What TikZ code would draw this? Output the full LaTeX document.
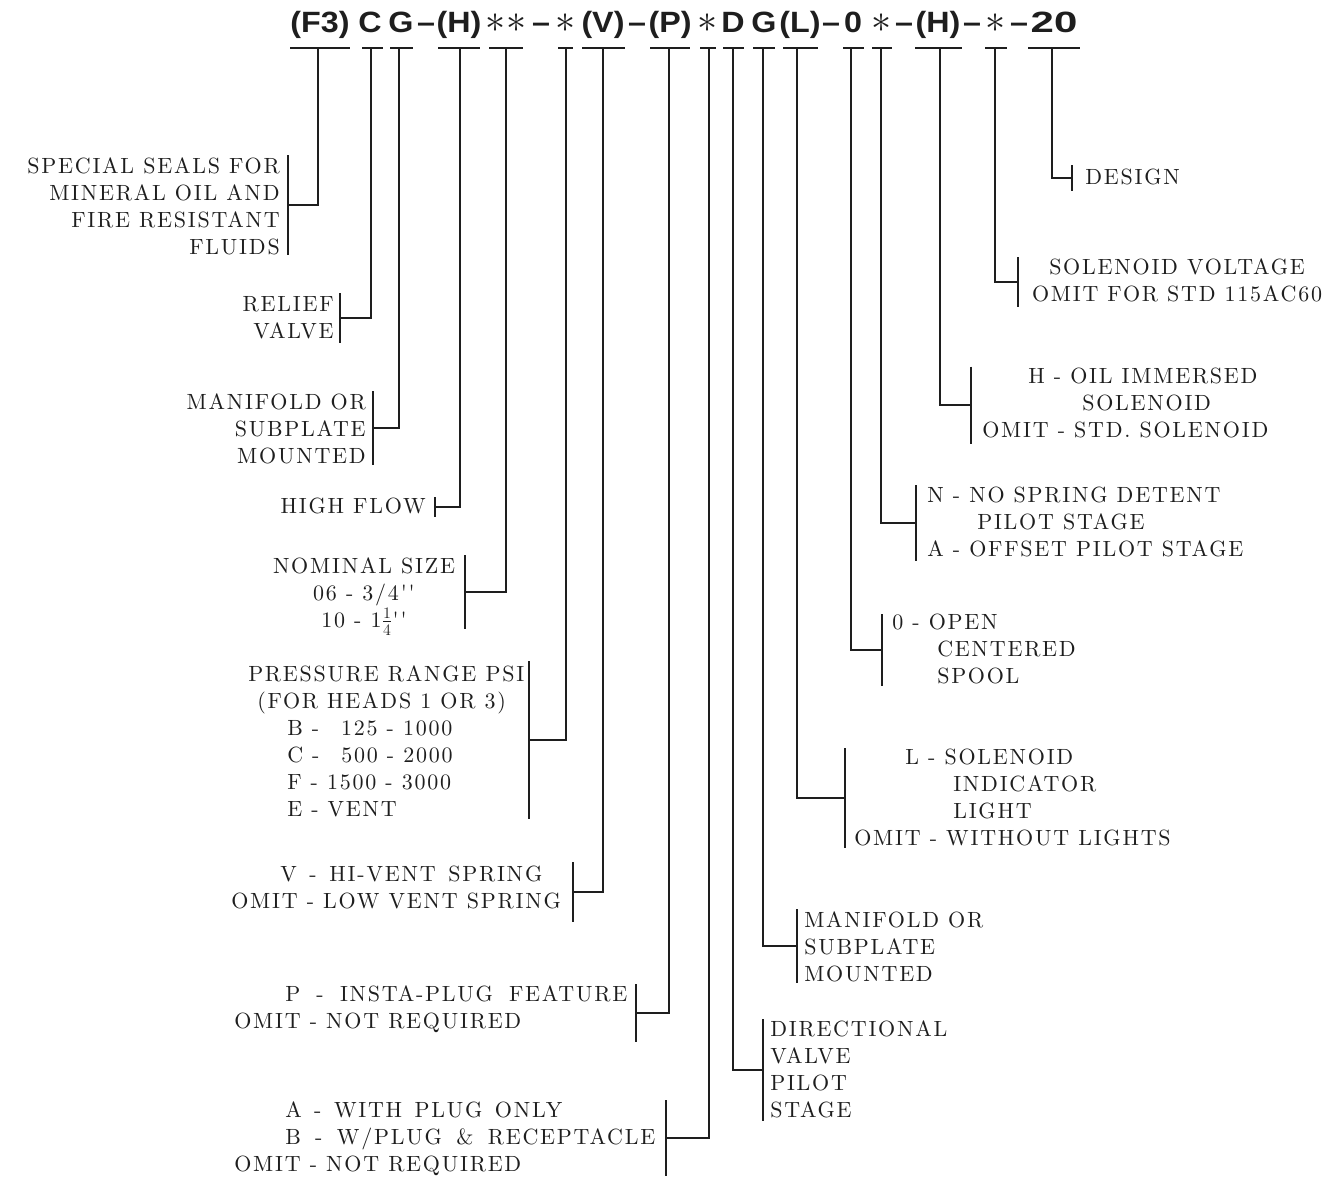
\documentclass[tikz,border=0pt]{standalone}
\usepackage{fontspec}
\usepackage{graphicx}
\usepackage{calc}
\newfontfamily\codefont{Liberation Sans}[FakeStretch=1.1]
\newfontfamily\lblface{lmroman10-regular}[Extension=.otf, LetterSpace=8]
\newlength\pxu \setlength\pxu{0.75pt}
\newcommand\ind[1]{\hspace*{#1\pxu}}
\newcommand\fit[2]{\makebox[#1\pxu][s]{#2}}
\newcommand\nb[1]{\makebox[\widthof{1500}][r]{#1}}
\newcommand\lblfont{\lblface\fontsize{16.5}{20.25}\selectfont}
\newcommand\bigast{\scalebox{1.45}{$\ast$}}
\definecolor{ink}{HTML}{1E1E1E}
\tikzset{
  lbl/.style={font=\lblfont, inner sep=0pt, text=ink},
  code/.style={font=\codefont\bfseries\fontsize{22}{26}\selectfont, inner sep=0pt, text=ink, anchor=base},
  bar/.style={minimum height=#1\pxu, minimum width=0pt, inner sep=0pt, outer sep=0pt},
  conn/.style={draw=ink, line width=1.1pt},
  uline/.style={draw=ink, line width=1.3pt}
}
\begin{document}
\begin{tikzpicture}[x=0.75pt,y=-0.75pt]
\fill[white] (0,0) rectangle (1333,1177);
\useasboundingbox (0,0) rectangle (1333,1177);

% ---- model code row ----
\node[code] (cF3) at (320,33) {(F3)};
\node[code] (cC)  at (370,33) {C};
\node[code] (cG1) at (401,33) {G};
\node[code] (d1)  at (426,33) {\textendash};
\node[code] (cH1) at (459,33) {(H)};
\node[code] (cSS) at (506,33) {\bigast\hspace{1pt}\bigast};
\node[code] (d2)  at (541,33) {\textendash};
\node[code] (cS1) at (566,33) {\bigast};
\node[code] (cV)  at (603,33) {(V)};
\node[code] (d3)  at (637,33) {\textendash};
\node[code] (cP)  at (670,33) {(P)};
\node[code] (cS2) at (708,33) {\bigast};
\node[code] (cD)  at (733,33) {D};
\node[code] (cG2) at (764,33) {G};
\node[code] (cL)  at (800,33) {(L)};
\node[code] (d4)  at (831,33) {\textendash};
\node[code] (cZ)  at (853,33) {0};
\node[code] (cS3) at (882,33) {\bigast};
\node[code] (d5)  at (904,33) {\textendash};
\node[code] (cH2) at (938,33) {(H)};
\node[code] (d6)  at (972,33) {\textendash};
\node[code] (cS4) at (996,33) {\bigast};
\node[code] (d7)  at (1019,33) {\textendash};
\node[code] (cT)  at (1054,33) {\scalebox{1.3}[1]{20}};

% underlines and tick points
\foreach \n/\a/\b/\t in {F3/290/350/318, C/362/383/371, GA/390/413/399, HA/438/480/460,
  SS/489/523/506, SA/558/573/566, V/582/625/603, P/650/690/669, SB/700/716/709,
  D/723/744/733, GB/753/775/763, L/783/818/797, Z/843/864/851, SC/872/892/881,
  HB/915/962/940, SD/985/1007/995, T/1028/1080/1052}{
  \draw[uline] (\a,48) -- (\b,48);
  \coordinate (t\n) at (\t,48);
}

% ---- left labels (anchor = baseline of last line) ----
\node[lbl, align=right, anchor=base east] (lSeal) at (280,254.5) {SPECIAL SEALS FOR\\MINERAL OIL AND\\FIRE RESISTANT\\FLUIDS};
\node[bar=100] (bSeal) at (288,205) {};
\node[lbl, align=right, anchor=base east] (lRel) at (334,338) {RELIEF\\VALVE};
\node[bar=50] (bRel) at (340,318) {};
\node[lbl, align=right, anchor=base east] (lMan1) at (366,463.5) {MANIFOLD OR\\SUBPLATE\\MOUNTED};
\node[bar=74] (bMan1) at (373,428) {};
\node[lbl, anchor=base east] (lHigh) at (426,513.5) {HIGH FLOW};
\node[bar=20] (bHigh) at (435,507) {};
\node[lbl, align=center, anchor=base] (lNom) at (364,627.5) {NOMINAL SIZE\\06 - 3/4''\\10 - 1$\frac14$''};
\node[bar=74] (bNom) at (465,592) {};
\node[lbl, align=left, anchor=base west] (lPress) at (248,816) {PRESSURE RANGE PSI\\\ind{9}(FOR HEADS 1 OR 3)\\
  \ind{39}B - \nb{125} - 1000\\\ind{39}C - \nb{500} - 2000\\\ind{39}F - 1500 - 3000\\\ind{39}E - VENT};
\node[bar=158] (bPress) at (529,740) {};
\node[lbl, align=left, anchor=base west] (lVent) at (231,908.5) {\ind{49}\fit{262}{V - HI-VENT SPRING}\\OMIT - LOW VENT SPRING};
\node[bar=60] (bVent) at (573,892) {};
\node[lbl, align=left, anchor=base west] (lIns) at (234,1028.5) {\ind{51}\fit{342}{P - INSTA-PLUG FEATURE}\\OMIT - NOT REQUIRED};
\node[bar=58] (bIns) at (636,1013) {};
\node[lbl, align=left, anchor=base west] (lPlug) at (234,1171.5) {\ind{51}\fit{277}{A - WITH PLUG ONLY}\\\ind{51}\fit{370}{B - W/PLUG \& RECEPTACLE}\\OMIT - NOT REQUIRED};
\node[bar=76] (bPlug) at (666,1138) {};

% ---- right labels ----
\node[lbl, align=left, anchor=base west] (lDir) at (770,1117.5) {DIRECTIONAL\\VALVE\\PILOT\\STAGE};
\node[bar=102] (bDir) at (763,1070) {};
\node[lbl, align=left, anchor=base west] (lMan2) at (804,981) {MANIFOLD OR\\SUBPLATE\\MOUNTED};
\node[bar=74] (bMan2) at (797,946) {};
\node[lbl, align=left, anchor=base west] (lLight) at (854,845.5) {\ind{51}L - SOLENOID\\\ind{99}INDICATOR\\\ind{99}LIGHT\\OMIT - WITHOUT LIGHTS};
\node[bar=100] (bLight) at (845,798) {};
\node[lbl, align=left, anchor=base west] (lOpen) at (892,683.5) {0 - OPEN\\\ind{45}CENTERED\\\ind{45}SPOOL};
\node[bar=72] (bOpen) at (882,650) {};
\node[lbl, align=left, anchor=base west] (lNo) at (927,556.5) {N - NO SPRING DETENT\\\ind{50}PILOT STAGE\\A - OFFSET PILOT STAGE};
\node[bar=76] (bNo) at (916,523) {};
\node[lbl, align=left, anchor=base west] (lOil) at (982,437.5) {\ind{46}H - OIL IMMERSED\\\ind{100}SOLENOID\\OMIT - STD. SOLENOID};
\node[bar=77] (bOil) at (971,405) {};
\node[lbl, align=center, anchor=base] (lVolt) at (1177,301.5) {SOLENOID VOLTAGE\\OMIT FOR STD 115AC60};
\node[bar=50] (bVolt) at (1018,282) {};
\node[lbl, anchor=base west] (lDes) at (1085,184.5) {DESIGN};
\node[bar=26] (bDes) at (1072,178) {};

% bracket bars
\foreach \b in {bSeal,bRel,bMan1,bHigh,bNom,bPress,bVent,bIns,bPlug,bDir,bMan2,bLight,bOpen,bNo,bOil,bVolt,bDes}
  \draw[conn] (\b.north) -- (\b.south);

% connectors
\draw[conn] (tF3) |- (bSeal);
\draw[conn] (tC)  |- (bRel);
\draw[conn] (tGA) |- (bMan1);
\draw[conn] (tHA) |- (bHigh);
\draw[conn] (tSS) |- (bNom);
\draw[conn] (tSA) |- (bPress);
\draw[conn] (tV)  |- (bVent);
\draw[conn] (tP)  |- (bIns);
\draw[conn] (tSB) |- (bPlug);
\draw[conn] (tD)  |- (bDir);
\draw[conn] (tGB) |- (bMan2);
\draw[conn] (tL)  |- (bLight);
\draw[conn] (tZ)  |- (bOpen);
\draw[conn] (tSC) |- (bNo);
\draw[conn] (tHB) |- (bOil);
\draw[conn] (tSD) |- (bVolt);
\draw[conn] (tT)  |- (bDes);
\end{tikzpicture}
\end{document}
